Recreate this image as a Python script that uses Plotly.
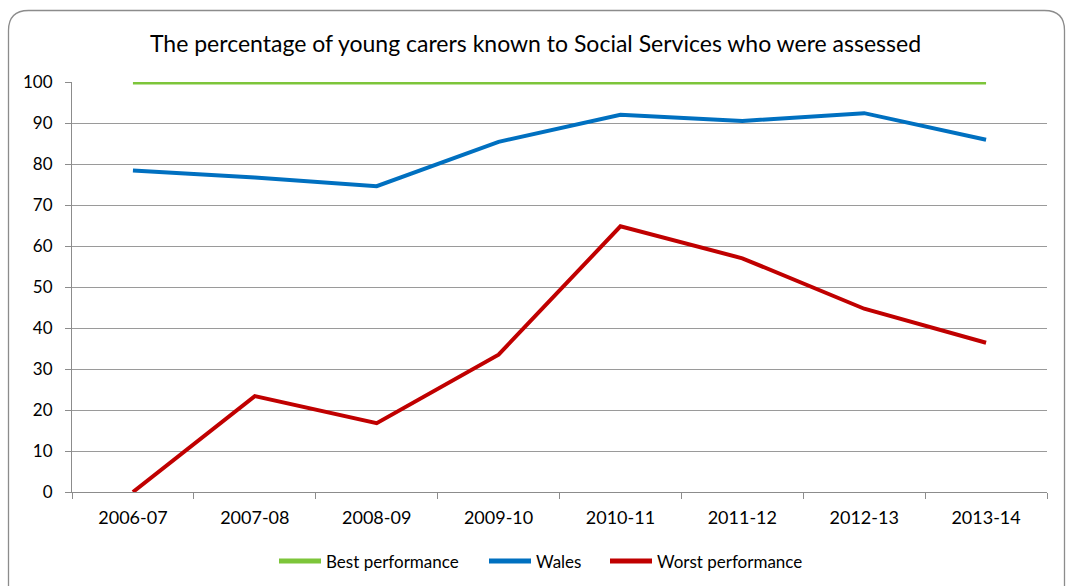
import plotly.graph_objects as go

# Financial years on the category axis
years = ["2006-07", "2007-08", "2008-09", "2009-10", "2010-11", "2011-12", "2012-13", "2013-14"]

# Percentage of young carers assessed
best_performance = [100, 100, 100, 100, 100, 100, 100, 100]
wales = [78.4, 76.7, 74.6, 85.4, 92.0, 90.5, 92.4, 85.9]
worst_performance = [0, 23.4, 16.8, 33.5, 64.8, 57.0, 44.7, 36.4]

y_ticks = list(range(0, 101, 10))

W, H = 1068, 586
ML, MR, MT, MB = 72, 21, 82, 94
PW, PH = W - ML - MR, H - MT - MB

font_family = "Lato, 'Open Sans', sans-serif"

fig = go.Figure()
series = [
    ("Best performance", best_performance, "#7DC53A", 5),
    ("Wales", wales, "#0070C0", 4),
    ("Worst performance", worst_performance, "#C00000", 4),
]
for name, vals, col, w in series:
    fig.add_trace(go.Scatter(
        x=years, y=vals, name=name, mode="lines",
        line=dict(color=col, width=w),
        cliponaxis=False, showlegend=False,
    ))


def px_x(p):
    return (p - ML) / PW


def px_y(p):
    return (H - MB - p) / PH


# rounded outer frame of the chart
x0, y0, x1, y1, r = 8.5, 10.5, 1064.5, 600, 20
path = (
    f"M {px_x(x0)},{px_y(y1)} L {px_x(x0)},{px_y(y0 + r)} "
    f"Q {px_x(x0)},{px_y(y0)} {px_x(x0 + r)},{px_y(y0)} "
    f"L {px_x(x1 - r)},{px_y(y0)} "
    f"Q {px_x(x1)},{px_y(y0)} {px_x(x1)},{px_y(y0 + r)} "
    f"L {px_x(x1)},{px_y(y1)}"
)
fig.add_shape(type="path", path=path, xref="paper", yref="paper",
              line=dict(color="#8C8C8C", width=1.3), layer="below")

# legend row below the axis: short line swatch followed by the series name
legend_y = 561
legend_starts = [279, 489, 610]
swatch_len = 42
for (name, _, col, _), sx in zip(series, legend_starts):
    fig.add_shape(type="line", xref="paper", yref="paper",
                  x0=px_x(sx), x1=px_x(sx + swatch_len),
                  y0=px_y(legend_y), y1=px_y(legend_y),
                  line=dict(color=col, width=5))
    fig.add_annotation(text=name, xref="paper", yref="paper",
                       x=px_x(sx + swatch_len + 3), y=px_y(legend_y + 0.5),
                       xanchor="left", yanchor="middle", showarrow=False,
                       font=dict(family=font_family, size=17, color="#000000"))

fig.update_layout(
    width=W, height=H,
    margin=dict(l=ML, r=MR, t=MT, b=MB, autoexpand=False),
    paper_bgcolor="white", plot_bgcolor="white",
    title=dict(
        text="The percentage of young carers known to Social Services who were assessed",
        x=535.5 / W, xref="container", xanchor="center",
        y=1 - 44 / H, yref="container", yanchor="middle",
        font=dict(family=font_family, size=23, color="#000000"),
    ),
    font=dict(family=font_family, size=17, color="#000000"),
    showlegend=False,
)

fig.update_xaxes(
    type="category", range=[-0.5, 7.5],
    showline=True, linecolor="#8C8C8C", linewidth=1,
    showgrid=False, ticks="outside", ticklen=6, tickcolor="#8C8C8C",
    tickson="boundaries", ticklabelstandoff=9,
    tickfont=dict(size=18), zeroline=False,
)
fig.update_yaxes(
    range=[0, 100], tickvals=y_ticks,
    showline=True, linecolor="#8C8C8C", linewidth=1,
    showgrid=True, gridcolor="#9A9A9A", gridwidth=1,
    ticks="outside", ticklen=6, tickcolor="#8C8C8C",
    ticklabelstandoff=9,
    tickfont=dict(size=17), zeroline=False,
)

fig.write_html("out.html")
